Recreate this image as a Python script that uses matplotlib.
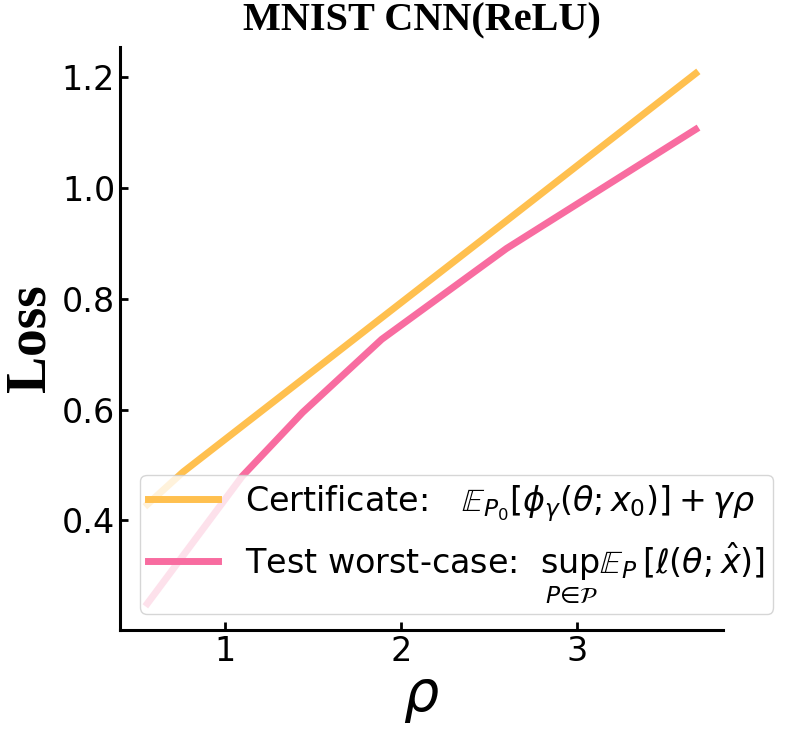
import matplotlib
matplotlib.use("Agg")
import matplotlib.pyplot as plt

# data
rho_cert = [0.557, 0.76, 1.44, 1.89, 2.60, 3.676]
loss_cert = [0.429, 0.4875, 0.655, 0.766, 0.941, 1.207]
rho_test = [0.557, 1.097, 1.44, 1.89, 2.60, 3.676]
loss_test = [0.250, 0.480, 0.595, 0.727, 0.891, 1.106]

label_cert = r'Certificate:   $\mathbb{E}_{P_0}[\phi_\gamma(\theta;x_0)]+\gamma\rho$'
label_test = r'Test worst-case:  $\sup_{P\in\mathcal{P}}\mathbb{E}_P[\ell(\theta;\hat{x})]$'
title = 'MNIST CNN(ReLU)'
xlabel = r'$\rho$'
ylabel = 'Loss'
yticks = [0.4, 0.6, 0.8, 1.0, 1.2]
xticks = [1, 2, 3]

W, H = 789, 731
fig = plt.figure(figsize=(W / 100, H / 100), dpi=100)
ax = fig.add_axes([120 / W, 1 - 630 / H, (723 - 120) / W, (630 - 47) / H])

ax.plot(rho_cert, loss_cert, color='#ffc04f', lw=5, label=label_cert)
ax.plot(rho_test, loss_test, color='#f86ca0', lw=5, label=label_test)

ax.set_xticks(xticks)
ax.set_yticks(yticks)
ax.set_yticklabels([f'{v:.1f}' for v in yticks])
ax.tick_params(direction='in', labelsize=24, length=6, width=2)
for s in ['top', 'right']:
    ax.spines[s].set_visible(False)
for s in ['left', 'bottom']:
    ax.spines[s].set_linewidth(2.2)

ax.set_title(title, fontfamily='Liberation Serif', fontweight='bold', fontsize=29, pad=12)
ax.set_ylabel(ylabel, fontfamily='Liberation Serif', fontweight='bold', fontsize=40)
ax.set_xlabel(xlabel, fontsize=40, labelpad=2)

leg = ax.legend(loc='lower left', bbox_to_anchor=(140 / W, 1 - 614 / H),
                bbox_transform=fig.transFigure, borderaxespad=0, borderpad=0.25,
                fontsize=24, handlelength=2.1, framealpha=0.8)

fig.savefig('out.png', dpi=100)
